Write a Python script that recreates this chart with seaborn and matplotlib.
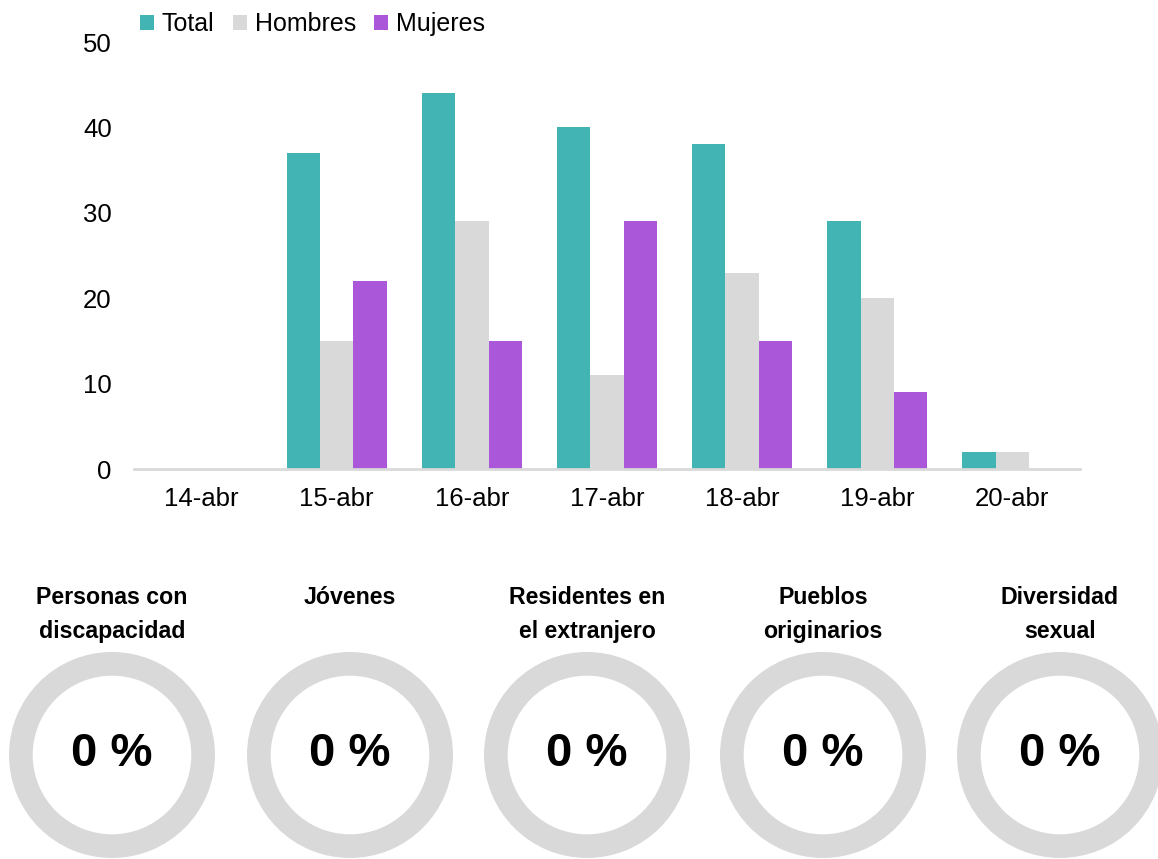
import pandas as pd
import matplotlib.pyplot as plt
import seaborn as sns
from matplotlib.patches import Patch

# data
fechas = ['14-abr', '15-abr', '16-abr', '17-abr', '18-abr', '19-abr', '20-abr']
total = [0, 37, 44, 40, 38, 29, 2]
hombres = [0, 15, 29, 11, 23, 20, 2]
mujeres = [0, 22, 15, 29, 15, 9, 0]
series = ['Total', 'Hombres', 'Mujeres']
colores = ['#42B4B3', '#D9D9D9', '#AA57D9']

grupos = ['Personas con\ndiscapacidad', 'Jóvenes', 'Residentes en\nel extranjero',
          'Pueblos\noriginarios', 'Diversidad\nsexual']
porcentajes = [0, 0, 0, 0, 0]

df = pd.DataFrame({
    'fecha': fechas * 3,
    'serie': ['Total'] * 7 + ['Hombres'] * 7 + ['Mujeres'] * 7,
    'valor': total + hombres + mujeres,
})

sns.set_style('white')
plt.rcParams['font.family'] = ['Liberation Sans', 'DejaVu Sans']
plt.rcParams['text.color'] = 'black'
plt.rcParams['xtick.color'] = 'black'
plt.rcParams['ytick.color'] = 'black'

W, H = 1158, 859
fig = plt.figure(figsize=(W / 100, H / 100), dpi=100)
ax = fig.add_axes([134 / W, 1 - 469 / H, 946 / W, 427 / H])

sns.barplot(data=df, x='fecha', y='valor', hue='serie', hue_order=series,
            palette=colores, width=0.74, ax=ax, legend=False, saturation=1,
            linewidth=0)

ax.set_xlim(-0.5, 6.5)
ax.set_ylim(0, 50)
ax.set_yticks([0, 10, 20, 30, 40, 50])
ax.set_xlabel('')
ax.set_ylabel('')
for s in ['top', 'right', 'left']:
    ax.spines[s].set_visible(False)
ax.spines['bottom'].set_color('#D9D9D9')
ax.spines['bottom'].set_linewidth(2)
ax.set_xticks([i - 0.5 for i in range(8)], minor=True)
ax.tick_params(axis='x', which='minor', length=6, width=2, color='#D9D9D9', direction='out')
ax.tick_params(axis='x', which='major', length=0, pad=13, labelsize=18.5)
ax.tick_params(axis='y', length=0, pad=16, labelsize=18.5)

handles = [Patch(facecolor=c, edgecolor='none') for c in colores]
fig.legend(handles, series, loc='center left', bbox_to_anchor=(140 / W, 1 - 24 / H),
           ncol=3, frameon=False, fontsize=18, handlelength=0.56, handleheight=0.56,
           handletextpad=0.32, columnspacing=0.72, borderaxespad=0, borderpad=0)

# donuts
centros = [112, 350, 587, 823, 1060]
r_px = 103
for cx, nombre, p in zip(centros, grupos, porcentajes):
    w = 2 * r_px / W
    h = 2 * r_px / H
    dax = fig.add_axes([cx / W - w / 2, 1 - 755 / H - h / 2, w, h])
    dax.pie([p, 100 - p], colors=['#42B4B3', '#D9D9D9'], startangle=90,
            counterclock=False, radius=1, wedgeprops=dict(width=0.23, edgecolor='none'))
    dax.set_xlim(-1, 1)
    dax.set_ylim(-1, 1)
    dax.set_aspect('equal')
    dax.axis('off')
    dax.text(0, 0.01, f'{p} %', ha='center', va='center', fontsize=34, fontweight='bold')
    fig.text(cx / W, 1 - 586 / H, nombre, ha='center', va='top', fontsize=16.7,
             fontweight='bold', linespacing=1.6)

fig.savefig('out.png', dpi=100)
